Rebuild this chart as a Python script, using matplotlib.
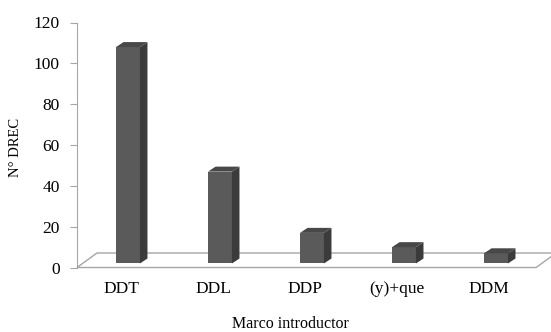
# Excel-style pseudo 3D column chart: N° DREC por marco introductor

import matplotlib.pyplot as plt
from matplotlib.patches import Polygon
import numpy as np

# --- Data ---
categories = ['DDT', 'DDL', 'DDP', '(y)+que', 'DDM']
values = [106, 45, 15, 8, 5]
yticks = [0, 20, 40, 60, 80, 100, 120]

plt.rcParams['font.family'] = ['Liberation Serif', 'DejaVu Serif']

# --- Geometry (data units) ---
x = np.arange(len(categories))
xmin, xmax = -0.554, 4.598
bw = 0.26              # bar width
bdx, bdy = 0.082, 2.45  # bar depth offset
base = 1.96            # bar floor level
fw = 4.99              # floor front width
fdx, fdy = 0.217, 7.1  # floor depth offset

front = '#5a5a5a'
side = '#3b3b3b'
top = '#484848'
grey = '#a6a6a6'

fig = plt.figure(figsize=(5.51, 3.32), dpi=100)
ax = fig.add_axes([77/551, (332-267.5)/332, (551-77)/551, 245/332])
ax.set_xlim(xmin, xmax)
ax.set_ylim(0, 120)

# floor
floor = Polygon([(xmin, 0), (xmin+fw, 0), (xmin+fw+fdx, fdy), (xmin+fdx, fdy)],
                closed=True, facecolor='white', edgecolor=grey, lw=1.0, clip_on=False, zorder=1)
ax.add_patch(floor)

# bars: front face + side + top
ax.bar(x, values, width=bw, bottom=base, color=front, edgecolor='none', zorder=3)
for xi, v in zip(x, values):
    r = xi + bw/2
    l = xi - bw/2
    t = base + v
    ax.add_patch(Polygon([(r, base), (r+bdx, base+bdy), (r+bdx, t+bdy), (r, t)],
                         closed=True, facecolor=side, edgecolor='none', zorder=3, clip_on=False))
    ax.add_patch(Polygon([(l, t), (l+bdx, t+bdy), (r+bdx, t+bdy), (r, t)],
                         closed=True, facecolor=top, edgecolor='none', zorder=3, clip_on=False))

# axes styling
for s in ['top', 'right', 'bottom']:
    ax.spines[s].set_visible(False)
ax.spines['left'].set_color(grey)
ax.spines['left'].set_bounds(0, 120)

ax.set_yticks(yticks)
ax.tick_params(axis='y', length=5, color=grey, pad=7.5, labelsize=12.5)
ax.set_xticks(x - 0.076)
ax.set_xticklabels(categories)
ax.tick_params(axis='x', length=0, pad=9.5, labelsize=12.5)

ax.set_xlabel('Marco introductor', fontsize=11.5, va='center')
ax.xaxis.set_label_coords((290-77)/474, -(324.5-267.5)/245)
ax.set_ylabel('N° DREC', fontsize=10.5, va='center')
ax.yaxis.set_label_coords(-(77-15.5)/474, (267.5-147)/245)

plt.savefig('out.png', dpi=100)
plt.close()
